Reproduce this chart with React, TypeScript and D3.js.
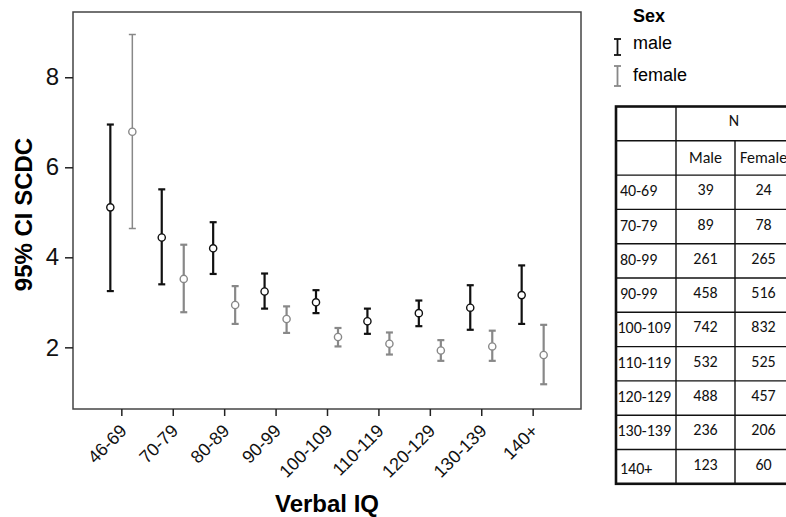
import React, { useRef, useEffect } from 'react';
import * as d3 from 'd3';

const categories = ['46-69', '70-79', '80-89', '90-99', '100-109', '110-119', '120-129', '130-139', '140+'];
const maleMean = [5.11, 4.44, 4.2, 3.24, 3.0, 2.58, 2.76, 2.88, 3.16];
const maleLower = [3.25, 3.4, 3.63, 2.86, 2.76, 2.3, 2.47, 2.39, 2.52];
const maleUpper = [6.95, 5.51, 4.78, 3.64, 3.27, 2.86, 3.04, 3.38, 3.82];
const femaleMean = [6.79, 3.52, 2.94, 2.63, 2.23, 2.08, 1.93, 2.02, 1.83];
const femaleLower = [4.64, 2.78, 2.52, 2.32, 2.02, 1.84, 1.7, 1.7, 1.18];
const femaleUpper = [8.95, 4.28, 3.36, 2.91, 2.43, 2.33, 2.16, 2.37, 2.5];
const yTicks = [2, 4, 6, 8];

const tableRows = ['40-69', '70-79', '80-99', '90-99', '100-109', '110-119', '120-129', '130-139', '140+'];
const nMale = [39, 89, 261, 458, 742, 532, 488, 236, 123];
const nFemale = [24, 78, 265, 516, 832, 525, 457, 206, 60];

const MALE = '#111';
const FEMALE = '#888';

const App = () => {
  const svgRef = useRef<SVGSVGElement>(null);

  useEffect(() => {
    const svg = d3.select(svgRef.current);
    svg.selectAll('*').remove();

    const width = 786;
    const height = 517;
    const plot = { left: 73, right: 581, top: 12, bottom: 409 };
    const font = '"Liberation Sans", Arial, sans-serif';

    svg.attr('width', width).attr('height', height);

    const x = d3.scalePoint<string>()
      .domain(categories)
      .range([plot.left, plot.right])
      .padding(0.94);

    const dodge = d3.scalePoint<string>().domain(['male', 'female']).range([-11, 11]);

    const y = d3.scaleLinear().domain([0.63, 9.45]).range([plot.bottom, plot.top]);

    // frame
    svg.append('rect')
      .attr('x', plot.left).attr('y', plot.top)
      .attr('width', plot.right - plot.left).attr('height', plot.bottom - plot.top)
      .attr('fill', 'none').attr('stroke', '#444').attr('stroke-width', 1.5);

    // y axis
    const yAxis = svg.append('g')
      .attr('transform', `translate(${plot.left},0)`)
      .call(d3.axisLeft(y).tickValues(yTicks).tickSize(8).tickSizeOuter(0).tickPadding(6));
    yAxis.select('.domain').remove();
    yAxis.selectAll('.tick line').attr('stroke', '#222').attr('stroke-width', 1.5);
    yAxis.selectAll('.tick text')
      .attr('font-family', font).attr('font-size', 24).attr('fill', '#111');

    // x axis
    const xAxis = svg.append('g')
      .attr('transform', `translate(0,${plot.bottom})`)
      .call(d3.axisBottom(x).tickSize(7).tickSizeOuter(0));
    xAxis.select('.domain').remove();
    xAxis.selectAll('.tick line').attr('stroke', '#222').attr('stroke-width', 1.5);
    xAxis.selectAll('.tick text')
      .attr('font-family', font).attr('font-size', 18).attr('fill', '#111')
      .attr('text-anchor', 'end')
      .attr('dy', null)
      .attr('y', 0)
      .attr('transform', 'translate(6,23) rotate(-45)');

    // axis titles
    svg.append('text')
      .attr('transform', `translate(32,${(plot.top + plot.bottom) / 2 + 4}) rotate(-90)`)
      .attr('text-anchor', 'middle')
      .attr('font-family', font).attr('font-size', 24).attr('font-weight', 'bold')
      .text('95% CI SCDC');

    svg.append('text')
      .attr('x', (plot.left + plot.right) / 2).attr('y', 512)
      .attr('text-anchor', 'middle')
      .attr('font-family', font).attr('font-size', 24).attr('font-weight', 'bold')
      .text('Verbal IQ');

    // error bars
    const series = [
      { key: 'male', color: MALE, mean: maleMean, lo: maleLower, hi: maleUpper },
      { key: 'female', color: FEMALE, mean: femaleMean, lo: femaleLower, hi: femaleUpper },
    ];

    series.forEach(s => {
      const g = svg.append('g');
      const cap = 3.5;
      categories.forEach((c, i) => {
        const cx = (x(c) as number) + (dodge(s.key) as number);
        const sw = s.key === 'female' && i === 0 ? 1.5 : 2.2;
        g.append('line')
          .attr('x1', cx).attr('x2', cx)
          .attr('y1', y(s.lo[i])).attr('y2', y(s.hi[i]))
          .attr('stroke', s.color).attr('stroke-width', sw);
        [s.lo[i], s.hi[i]].forEach(v => {
          g.append('line')
            .attr('x1', cx - cap).attr('x2', cx + cap)
            .attr('y1', y(v)).attr('y2', y(v))
            .attr('stroke', s.color).attr('stroke-width', sw);
        });
        g.append('circle')
          .attr('cx', cx).attr('cy', y(s.mean[i])).attr('r', 3.6)
          .attr('fill', '#fff').attr('stroke', s.color).attr('stroke-width', 1.4);
      });
    });

    // legend
    svg.append('text')
      .attr('x', 633).attr('y', 22)
      .attr('font-family', font).attr('font-size', 18).attr('font-weight', 'bold')
      .text('Sex');
    const legendItems = [
      { label: 'male', color: MALE, top: 39, bottom: 55, base: 49 },
      { label: 'female', color: FEMALE, top: 66, bottom: 86, base: 81 },
    ];
    legendItems.forEach(d => {
      const lx = 617.5;
      svg.append('line').attr('x1', lx).attr('x2', lx).attr('y1', d.top).attr('y2', d.bottom)
        .attr('stroke', d.color).attr('stroke-width', 1.8);
      [d.top, d.bottom].forEach(v => {
        svg.append('line').attr('x1', lx - 3.5).attr('x2', lx + 3.5).attr('y1', v).attr('y2', v)
          .attr('stroke', d.color).attr('stroke-width', 1.8);
      });
      svg.append('text')
        .attr('x', 633).attr('y', d.base)
        .attr('font-family', font).attr('font-size', 18)
        .text(d.label);
    });

    // N table
    const tFont = 'Carlito, Lato, "Open Sans", sans-serif';
    const cols = [616, 676, 735, 792];
    const rowH = 34.3;
    const tTop = 106.5;
    const nRows = tableRows.length + 2;
    const tBottom = tTop + rowH * nRows;
    const tg = svg.append('g');

    // horizontal inner lines
    d3.range(1, nRows).forEach(r => {
      const yy = tTop + r * rowH;
      tg.append('line')
        .attr('x1', cols[0]).attr('x2', cols[3])
        .attr('y1', yy).attr('y2', yy)
        .attr('stroke', '#111').attr('stroke-width', 1.4);
    });
    // vertical inner lines
    tg.append('line').attr('x1', cols[1]).attr('x2', cols[1]).attr('y1', tTop).attr('y2', tBottom)
      .attr('stroke', '#111').attr('stroke-width', 1.4);
    tg.append('line').attr('x1', cols[2]).attr('x2', cols[2]).attr('y1', tTop + rowH).attr('y2', tBottom)
      .attr('stroke', '#111').attr('stroke-width', 1.4);
    // outer border
    tg.append('rect')
      .attr('x', cols[0]).attr('y', tTop)
      .attr('width', cols[3] - cols[0]).attr('height', tBottom - tTop)
      .attr('fill', 'none').attr('stroke', '#111').attr('stroke-width', 2.6);

    const cellText = (tx: number, ty: number, txt: string, anchor: string) => {
      tg.append('text')
        .attr('x', tx).attr('y', ty)
        .attr('text-anchor', anchor)
        .attr('font-family', tFont).attr('font-size', 16).attr('fill', '#111')
        .text(txt);
    };

    cellText((cols[1] + cols[3]) / 2, tTop + rowH / 2 + 2, 'N', 'middle');
    cellText((cols[1] + cols[2]) / 2, tTop + rowH * 1.5 + 5, 'Male', 'middle');
    cellText(cols[2] + 5, tTop + rowH * 1.5 + 5, 'Female', 'start');
    tableRows.forEach((r, i) => {
      const cy = tTop + rowH * (i + 2.5);
      cellText(r.length > 5 ? cols[0] + 1.5 : cols[0] + 4, cy + (i === tableRows.length - 1 ? 7 : 4), r, 'start');
      cellText((cols[1] + cols[2]) / 2, cy + 3, String(nMale[i]), 'middle');
      cellText((cols[2] + cols[3]) / 2, cy + 3, String(nFemale[i]), 'middle');
    });
  }, []);

  return (
    <div style={{ position: 'absolute', left: 0, top: 0, background: '#fff' }}>
      <svg ref={svgRef} style={{ display: 'block' }}></svg>
    </div>
  );
};

export default App;
